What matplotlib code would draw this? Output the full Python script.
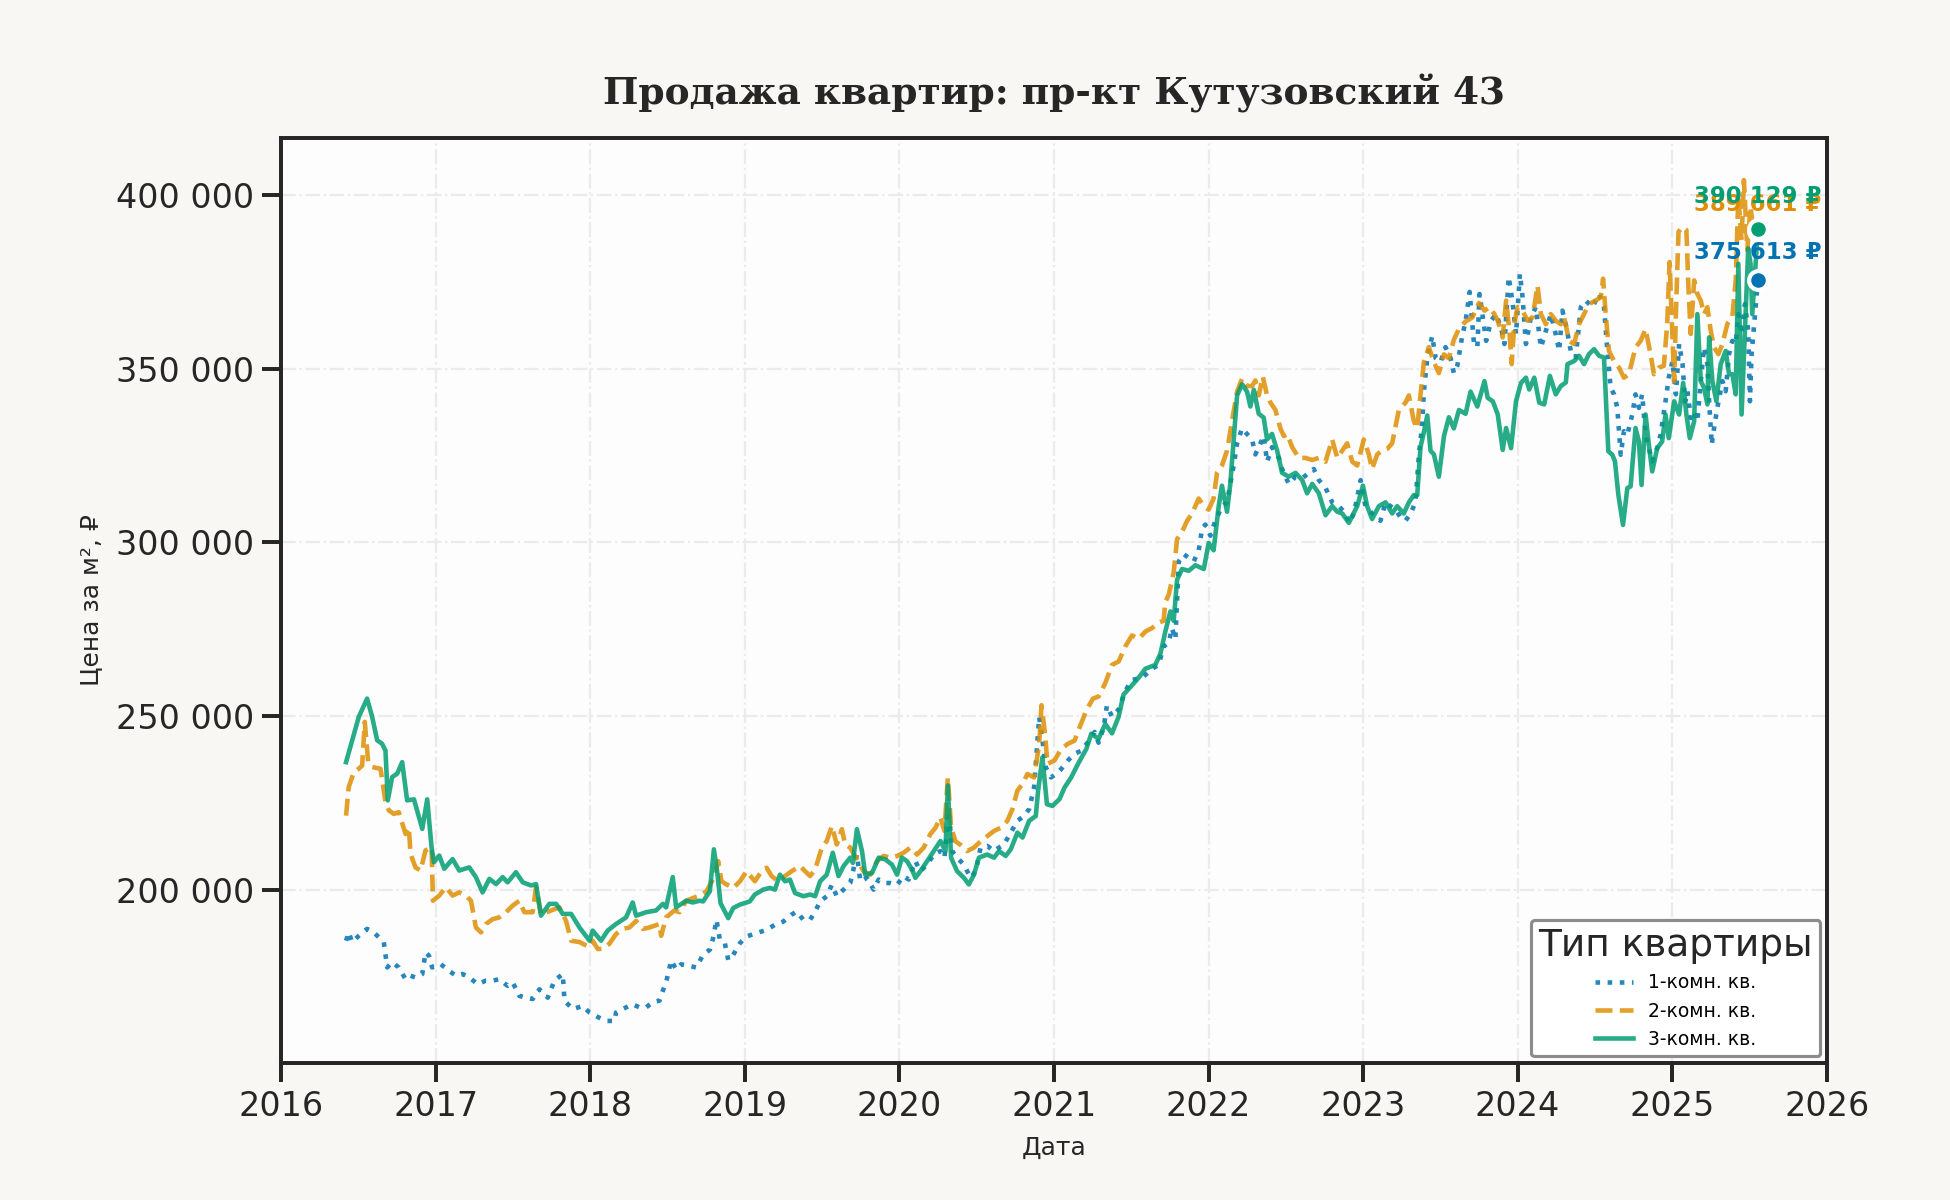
import pandas as pd
import matplotlib
matplotlib.use("Agg")
import matplotlib.pyplot as plt
import matplotlib.dates as mdates
from matplotlib.ticker import FuncFormatter, MultipleLocator

# даты в долях года, цены в рублях за м²
one_room_t = [
    2016.421, 2016.438, 2016.460, 2016.503, 2016.557, 2016.600, 2016.633, 2016.665, 2016.687, 2016.719,
    2016.762, 2016.806, 2016.838, 2016.870, 2016.914, 2016.935, 2016.957, 2016.978, 2017.032, 2017.086,
    2017.130, 2017.173, 2017.216, 2017.270, 2017.324, 2017.367, 2017.410, 2017.464, 2017.497, 2017.540,
    2017.583, 2017.626, 2017.670, 2017.724, 2017.767, 2017.821, 2017.832, 2017.886, 2017.950, 2017.994,
    2018.058, 2018.102, 2018.156, 2018.166, 2018.231, 2018.274, 2018.317, 2018.361, 2018.404, 2018.447,
    2018.469, 2018.490, 2018.523, 2018.555, 2018.587, 2018.631, 2018.685, 2018.729, 2018.773, 2018.794,
    2018.816, 2018.838, 2018.870, 2018.892, 2018.924, 2018.968, 2019.011, 2019.076, 2019.141, 2019.195,
    2019.249, 2019.303, 2019.335, 2019.379, 2019.422, 2019.455, 2019.487, 2019.530, 2019.563, 2019.595,
    2019.639, 2019.682, 2019.725, 2019.747, 2019.790, 2019.833, 2019.866, 2019.909, 2019.942, 2019.985,
    2020.028, 2020.061, 2020.104, 2020.136, 2020.180, 2020.223, 2020.266, 2020.292, 2020.320, 2020.342,
    2020.374, 2020.418, 2020.461, 2020.494, 2020.526, 2020.569, 2020.613, 2020.645, 2020.677, 2020.721,
    2020.764, 2020.807, 2020.840, 2020.872, 2020.905, 2020.926, 2020.948, 2020.981, 2021.013, 2021.045,
    2021.089, 2021.132, 2021.175, 2021.219, 2021.262, 2021.287, 2021.320, 2021.341, 2021.374, 2021.417,
    2021.460, 2021.503, 2021.568, 2021.633, 2021.676, 2021.708, 2021.741, 2021.762, 2021.784, 2021.806,
    2021.838, 2021.870, 2021.903, 2021.935, 2021.957, 2021.978, 2022.011, 2022.043, 2022.065, 2022.086,
    2022.119, 2022.140, 2022.162, 2022.184, 2022.216, 2022.248, 2022.281, 2022.302, 2022.324, 2022.356,
    2022.378, 2022.410, 2022.454, 2022.475, 2022.518, 2022.562, 2022.605, 2022.648, 2022.680, 2022.713,
    2022.756, 2022.799, 2022.842, 2022.886, 2022.907, 2022.940, 2022.983, 2023.015, 2023.058, 2023.112,
    2023.145, 2023.177, 2023.210, 2023.242, 2023.274, 2023.307, 2023.339, 2023.361, 2023.382, 2023.393,
    2023.415, 2023.447, 2023.469, 2023.501, 2023.533, 2023.566, 2023.587, 2023.609, 2023.641, 2023.663,
    2023.689, 2023.717, 2023.739, 2023.753, 2023.774, 2023.796, 2023.828, 2023.860, 2023.892, 2023.914,
    2023.942, 2023.968, 2023.989, 2024.015, 2024.032, 2024.054, 2024.086, 2024.118, 2024.151, 2024.183,
    2024.215, 2024.247, 2024.269, 2024.290, 2024.316, 2024.344, 2024.376, 2024.409, 2024.441, 2024.484,
    2024.527, 2024.559, 2024.581, 2024.602, 2024.624, 2024.645, 2024.667, 2024.688, 2024.710, 2024.742,
    2024.763, 2024.785, 2024.806, 2024.828, 2024.849, 2024.871, 2024.903, 2024.925, 2024.957, 2024.978,
    2025.000, 2025.022, 2025.043, 2025.065, 2025.082, 2025.097, 2025.118, 2025.140, 2025.161, 2025.183,
    2025.204, 2025.226, 2025.237, 2025.254, 2025.269, 2025.290, 2025.323, 2025.344, 2025.366, 2025.387,
    2025.409, 2025.426, 2025.447, 2025.469, 2025.490, 2025.501, 2025.512, 2025.553,
]
one_room_v = [
    185300, 187700, 184900, 186700, 188700, 187700, 186300, 184900, 177600, 179100,
    177600, 174200, 175200, 174700, 175700, 181900, 181000, 177600, 178500, 176600,
    175200, 175700, 174700, 172800, 173800, 173800, 174200, 172300, 173300, 169400,
    168900, 168500, 171300, 168900, 173800, 175700, 168000, 165600, 166500, 164600,
    163100, 162200, 162200, 164600, 166100, 167000, 166100, 166100, 167600, 168000,
    170900, 173300, 179600, 177000, 178500, 178100, 177600, 181200, 182700, 186000,
    191300, 185500, 184600, 179700, 181200, 184600, 186500, 187500, 188400, 189900,
    190800, 192800, 193700, 191300, 191300, 193700, 196600, 198100, 201400, 198100,
    200000, 201900, 210100, 202400, 203400, 200000, 202900, 201900, 201900, 201400,
    203900, 202900, 208200, 205300, 207200, 210100, 211100, 209200, 222700, 211100,
    209200, 207200, 203400, 205300, 212100, 212600, 211100, 212100, 213000, 216400,
    219800, 221200, 223200, 229400, 249700, 243000, 235200, 232300, 233300, 234700,
    237200, 239100, 240000, 242500, 245400, 242300, 246600, 253000, 249800, 251900,
    257200, 260400, 260900, 263600, 264700, 270000, 271100, 275300, 272100, 294500,
    296600, 295500, 294500, 297700, 304000, 305100, 301900, 306200, 308300, 310400,
    311500, 316800, 322100, 328500, 332800, 331200, 329600, 325300, 327400, 330600,
    323200, 327400, 324300, 321100, 316800, 318900, 318400, 320000, 321100, 317900,
    315700, 311500, 310400, 308300, 305600, 308300, 317900, 310400, 308300, 306200,
    311500, 310400, 309400, 307200, 306200, 308300, 311500, 325300, 333800, 343400,
    353000, 359400, 353000, 351900, 356200, 353000, 348700, 350800, 359400, 363600,
    372100, 357300, 356200, 371500, 364800, 358000, 363800, 365700, 361900, 357100,
    376400, 368600, 359900, 377300, 370600, 357100, 364800, 367700, 356100, 360900,
    365700, 359900, 355100, 366700, 361900, 355100, 353200, 367700, 369600, 367700,
    371500, 367700, 355100, 344500, 342600, 338700, 325200, 332000, 331000, 336800,
    342600, 338700, 342600, 331000, 327100, 323300, 327100, 331000, 340600, 347400,
    352200, 342600, 357100, 351300, 340600, 343500, 335800, 337700, 334800, 346400,
    356100, 351300, 340600, 328100, 332900, 338700, 346400, 343500, 354200, 358000,
    357100, 365700, 359900, 368600, 360900, 340600, 354200, 375613,
]

two_room_t = [
    2016.421, 2016.438, 2016.471, 2016.503, 2016.525, 2016.542, 2016.564, 2016.590, 2016.644, 2016.676,
    2016.698, 2016.730, 2016.762, 2016.806, 2016.827, 2016.838, 2016.870, 2016.903, 2016.935, 2016.974,
    2016.983, 2017.022, 2017.065, 2017.108, 2017.151, 2017.194, 2017.227, 2017.259, 2017.292, 2017.324,
    2017.367, 2017.410, 2017.454, 2017.497, 2017.540, 2017.572, 2017.626, 2017.648, 2017.680, 2017.734,
    2017.799, 2017.842, 2017.875, 2017.929, 2017.994, 2018.015, 2018.048, 2018.080, 2018.123, 2018.166,
    2018.210, 2018.253, 2018.296, 2018.339, 2018.382, 2018.447, 2018.458, 2018.490, 2018.544, 2018.577,
    2018.620, 2018.706, 2018.751, 2018.805, 2018.827, 2018.848, 2018.881, 2018.924, 2018.968, 2019.011,
    2019.065, 2019.108, 2019.141, 2019.173, 2019.216, 2019.260, 2019.303, 2019.357, 2019.390, 2019.422,
    2019.455, 2019.498, 2019.530, 2019.563, 2019.595, 2019.628, 2019.649, 2019.682, 2019.725, 2019.768,
    2019.812, 2019.855, 2019.898, 2019.942, 2019.985, 2020.028, 2020.071, 2020.115, 2020.158, 2020.201,
    2020.234, 2020.266, 2020.292, 2020.314, 2020.335, 2020.364, 2020.396, 2020.439, 2020.483, 2020.526,
    2020.569, 2020.613, 2020.656, 2020.699, 2020.732, 2020.764, 2020.797, 2020.829, 2020.872, 2020.905,
    2020.920, 2020.942, 2020.959, 2021.002, 2021.045, 2021.089, 2021.132, 2021.165, 2021.208, 2021.251,
    2021.287, 2021.330, 2021.374, 2021.417, 2021.460, 2021.503, 2021.546, 2021.590, 2021.633, 2021.676,
    2021.708, 2021.719, 2021.741, 2021.773, 2021.795, 2021.827, 2021.860, 2021.892, 2021.935, 2021.968,
    2022.000, 2022.032, 2022.054, 2022.086, 2022.119, 2022.151, 2022.184, 2022.216, 2022.248, 2022.281,
    2022.302, 2022.324, 2022.350, 2022.378, 2022.400, 2022.432, 2022.464, 2022.486, 2022.508, 2022.540,
    2022.583, 2022.626, 2022.670, 2022.713, 2022.756, 2022.799, 2022.832, 2022.864, 2022.896, 2022.929,
    2022.961, 2023.004, 2023.037, 2023.058, 2023.091, 2023.123, 2023.156, 2023.188, 2023.231, 2023.274,
    2023.296, 2023.328, 2023.350, 2023.371, 2023.393, 2023.425, 2023.458, 2023.490, 2023.523, 2023.555,
    2023.587, 2023.620, 2023.663, 2023.706, 2023.749, 2023.785, 2023.817, 2023.849, 2023.871, 2023.903,
    2023.925, 2023.946, 2023.961, 2023.978, 2024.000, 2024.032, 2024.065, 2024.097, 2024.129, 2024.151,
    2024.183, 2024.215, 2024.247, 2024.280, 2024.301, 2024.333, 2024.366, 2024.398, 2024.430, 2024.462,
    2024.505, 2024.538, 2024.553, 2024.570, 2024.591, 2024.624, 2024.656, 2024.688, 2024.720, 2024.763,
    2024.796, 2024.828, 2024.860, 2024.882, 2024.914, 2024.946, 2024.968, 2024.983, 2025.011, 2025.022,
    2025.039, 2025.065, 2025.090, 2025.103, 2025.118, 2025.140, 2025.161, 2025.183, 2025.204, 2025.226,
    2025.247, 2025.269, 2025.297, 2025.323, 2025.355, 2025.387, 2025.409, 2025.426, 2025.447, 2025.462,
    2025.484, 2025.505, 2025.527, 2025.553,
]
two_room_v = [
    221300, 229500, 233800, 234800, 235700, 248300, 236700, 235300, 234800, 225200,
    222800, 221800, 222300, 216000, 217900, 210300, 206400, 205500, 211300, 212200,
    196800, 198300, 200700, 198300, 199200, 198300, 196800, 189100, 187700, 190100,
    191500, 192000, 193500, 195400, 196800, 193500, 193500, 200700, 192800, 193800,
    194900, 191000, 185300, 184900, 183400, 185300, 182900, 183000, 184400, 187200,
    188700, 189100, 191000, 188700, 189100, 190100, 186700, 192000, 194000, 193500,
    196800, 198300, 199500, 203900, 208200, 202400, 201500, 200500, 202400, 205300,
    202400, 205300, 206300, 203900, 202400, 203900, 205300, 206800, 205300, 203900,
    205800, 212100, 214000, 218300, 213000, 217400, 213000, 212100, 208700, 205300,
    204300, 208200, 209700, 209200, 209700, 210600, 212100, 210100, 212100, 216000,
    217800, 220800, 216900, 232300, 217800, 213900, 212900, 211100, 212100, 213900,
    215400, 216900, 217800, 219800, 223200, 228500, 230400, 233300, 232300, 241900,
    253100, 245100, 236200, 237200, 240500, 242000, 242900, 246800, 251600, 255000,
    255600, 259400, 264700, 265700, 270000, 273200, 272200, 274300, 275300, 276900,
    277400, 282800, 284900, 291300, 300900, 303000, 306200, 308300, 312600, 310400,
    309400, 312600, 320000, 322100, 326400, 334900, 343400, 347100, 345000, 345000,
    346600, 342300, 347700, 342300, 340200, 338100, 332800, 330600, 331200, 327400,
    324300, 324300, 323700, 324300, 323200, 329600, 324300, 326400, 328500, 323200,
    322100, 329600, 325300, 321100, 325300, 326400, 326900, 328500, 338100, 340200,
    342300, 334900, 332800, 342300, 351900, 356200, 351900, 348700, 354100, 353000,
    358300, 361500, 363600, 364700, 368900, 366700, 367700, 365700, 363800, 359000,
    369600, 360900, 351300, 362900, 367700, 366700, 363800, 364800, 373900, 365700,
    362800, 365700, 363800, 362800, 364800, 358000, 357100, 362900, 365700, 368600,
    369600, 370600, 375900, 365700, 355100, 352200, 350300, 347400, 348400, 356100,
    358000, 361400, 354200, 348400, 350300, 350800, 362900, 380700, 346400, 365700,
    389400, 390800, 389900, 373500, 360000, 375400, 371500, 369600, 365700, 367700,
    361000, 356100, 354200, 357100, 362900, 364800, 375400, 399500, 387000, 404300,
    384100, 396700, 387900, 389661,
]

three_room_t = [
    2016.421, 2016.503, 2016.557, 2016.590, 2016.622, 2016.654, 2016.676, 2016.691, 2016.719, 2016.752,
    2016.784, 2016.816, 2016.860, 2016.914, 2016.946, 2016.974, 2016.989, 2017.022, 2017.054, 2017.108,
    2017.151, 2017.216, 2017.259, 2017.302, 2017.346, 2017.389, 2017.432, 2017.464, 2017.518, 2017.562,
    2017.616, 2017.648, 2017.680, 2017.734, 2017.778, 2017.821, 2017.875, 2017.929, 2017.994, 2018.015,
    2018.069, 2018.112, 2018.166, 2018.231, 2018.274, 2018.296, 2018.361, 2018.425, 2018.469, 2018.490,
    2018.533, 2018.555, 2018.620, 2018.663, 2018.706, 2018.729, 2018.773, 2018.799, 2018.820, 2018.842,
    2018.892, 2018.924, 2018.968, 2019.032, 2019.065, 2019.119, 2019.162, 2019.195, 2019.227, 2019.260,
    2019.292, 2019.325, 2019.379, 2019.422, 2019.455, 2019.487, 2019.530, 2019.569, 2019.606, 2019.639,
    2019.682, 2019.699, 2019.725, 2019.758, 2019.779, 2019.823, 2019.866, 2019.909, 2019.952, 2019.985,
    2020.017, 2020.050, 2020.082, 2020.104, 2020.136, 2020.180, 2020.223, 2020.266, 2020.299, 2020.314,
    2020.335, 2020.374, 2020.418, 2020.450, 2020.483, 2020.515, 2020.569, 2020.613, 2020.645, 2020.688,
    2020.721, 2020.764, 2020.797, 2020.840, 2020.883, 2020.898, 2020.926, 2020.955, 2020.991, 2021.035,
    2021.067, 2021.110, 2021.154, 2021.208, 2021.240, 2021.287, 2021.330, 2021.374, 2021.417, 2021.449,
    2021.503, 2021.546, 2021.590, 2021.654, 2021.687, 2021.719, 2021.752, 2021.773, 2021.795, 2021.827,
    2021.870, 2021.914, 2021.968, 2022.000, 2022.032, 2022.043, 2022.065, 2022.086, 2022.119, 2022.140,
    2022.162, 2022.184, 2022.216, 2022.248, 2022.270, 2022.292, 2022.324, 2022.356, 2022.378, 2022.410,
    2022.443, 2022.475, 2022.518, 2022.562, 2022.605, 2022.637, 2022.670, 2022.713, 2022.756, 2022.799,
    2022.832, 2022.864, 2022.907, 2022.961, 2022.998, 2023.026, 2023.058, 2023.102, 2023.145, 2023.188,
    2023.220, 2023.263, 2023.296, 2023.328, 2023.350, 2023.371, 2023.393, 2023.415, 2023.436, 2023.458,
    2023.490, 2023.523, 2023.555, 2023.587, 2023.620, 2023.663, 2023.695, 2023.739, 2023.785, 2023.806,
    2023.839, 2023.871, 2023.903, 2023.925, 2023.957, 2023.989, 2024.022, 2024.054, 2024.075, 2024.108,
    2024.140, 2024.172, 2024.209, 2024.247, 2024.280, 2024.312, 2024.323, 2024.366, 2024.398, 2024.430,
    2024.462, 2024.495, 2024.527, 2024.559, 2024.587, 2024.613, 2024.630, 2024.652, 2024.682, 2024.710,
    2024.731, 2024.763, 2024.785, 2024.802, 2024.828, 2024.849, 2024.871, 2024.903, 2024.935, 2024.957,
    2024.978, 2025.011, 2025.043, 2025.069, 2025.090, 2025.112, 2025.140, 2025.161, 2025.183, 2025.204,
    2025.226, 2025.237, 2025.258, 2025.284, 2025.312, 2025.344, 2025.366, 2025.387, 2025.409, 2025.426,
    2025.447, 2025.469, 2025.490, 2025.505, 2025.516, 2025.553,
]
three_room_v = [
    236700, 249700, 255000, 249700, 243000, 242000, 240000, 225700, 232400, 233400,
    236700, 225700, 226000, 217500, 226000, 212200, 207900, 209800, 206000, 208800,
    205500, 206400, 203600, 199200, 203100, 201600, 203600, 202100, 205000, 202100,
    201200, 201600, 192500, 195900, 195900, 193000, 193000, 189100, 185300, 188200,
    185300, 188200, 190100, 192000, 196300, 192500, 193500, 194000, 195900, 194900,
    203600, 194900, 196800, 196300, 196800, 196600, 199500, 211600, 205300, 196100,
    191800, 194700, 195700, 196600, 198600, 200000, 200500, 200000, 204300, 202400,
    202900, 199000, 198100, 198600, 198100, 202400, 204300, 210600, 203900, 206800,
    209200, 207700, 217400, 211100, 204300, 204800, 209200, 208700, 207200, 204300,
    209200, 208200, 205800, 203400, 205300, 208200, 211100, 214000, 211100, 230000,
    209200, 205300, 203400, 201500, 204300, 209200, 210100, 209200, 211100, 209700,
    211600, 216400, 215000, 219800, 221200, 228500, 238100, 224600, 224100, 226100,
    229400, 232300, 236200, 240500, 244900, 243400, 247700, 245000, 249800, 256200,
    258800, 261000, 263600, 264700, 267900, 274300, 280100, 277400, 289200, 292300,
    291800, 293400, 292300, 299800, 297700, 301900, 310400, 316300, 308800, 316800,
    329600, 342300, 345500, 343400, 339100, 343900, 337000, 335900, 329600, 331200,
    326400, 320000, 318900, 320000, 317900, 314100, 316800, 314100, 307800, 310400,
    308800, 308300, 305600, 310400, 316300, 310400, 306700, 310400, 311500, 308300,
    310400, 308300, 311500, 313600, 313600, 327400, 331700, 336500, 326400, 325300,
    318900, 330600, 336000, 332800, 338100, 337000, 343400, 339100, 346400, 341600,
    340600, 336800, 326600, 332900, 327100, 340600, 345900, 347400, 344000, 347400,
    340200, 339700, 347900, 342600, 345000, 346000, 351300, 352200, 353700, 351300,
    354200, 355600, 353700, 353200, 326200, 325200, 323300, 313600, 305000, 315600,
    316100, 332900, 329000, 316500, 336800, 328100, 320400, 327100, 329000, 336800,
    330000, 340600, 336800, 345900, 336800, 330000, 334800, 365700, 346400, 344500,
    339700, 359000, 346400, 340600, 351300, 355100, 348400, 348400, 342600, 380200,
    336800, 360900, 384600, 380200, 365700, 390129,
]

series_names = ["1-комн. кв.", "2-комн. кв.", "3-комн. кв."]
colors = ["#0173b2", "#de8f05", "#029e73"]
styles = [":", "--", "-"]
label_offsets = [13, 12.7, 15.7]


def to_dates(years):
    out = []
    for y in years:
        base = pd.Timestamp(year=int(y), month=1, day=1)
        out.append(base + pd.Timedelta(days=(y - int(y)) * 365.25))
    return out


fig = plt.figure(figsize=(13, 8), dpi=150, facecolor="#f8f7f3")
ax = fig.add_axes([0.1441, 0.1142, 0.7928, 0.7708])
ax.set_facecolor("#fdfdfd")

all_t = [one_room_t, two_room_t, three_room_t]
all_v = [one_room_v, two_room_v, three_room_v]

for t, v, name, c, ls in zip(all_t, all_v, series_names, colors, styles):
    d = to_dates(t)
    ax.plot(d, v, ls, color=c, lw=2.2, alpha=0.85, label=name, zorder=3)

# последние значения
for t, v, c, off in zip(all_t, all_v, colors, label_offsets):
    d = to_dates(t)[-1]
    ax.plot([d], [v[-1]], "o", color=c, ms=9, mec="white", mew=2, zorder=6)
    label = f"{v[-1]:,}".replace(",", " ") + " ₽"
    ax.annotate(label, (d, v[-1]), xytext=(0, off), textcoords="offset points",
                ha="center", va="center", fontsize=11, fontweight="bold",
                color=c, zorder=7)

ax.set_xlim(pd.Timestamp("2016-01-01"), pd.Timestamp("2026-01-01"))
ax.xaxis.set_major_locator(mdates.YearLocator())
ax.xaxis.set_major_formatter(mdates.DateFormatter("%Y"))
ax.yaxis.set_major_locator(MultipleLocator(50000))
ax.yaxis.set_major_formatter(FuncFormatter(lambda x, p: f"{int(x):,}".replace(",", " ")))

ax.grid(True, linestyle="-.", color="#ebebeb", lw=1.1, zorder=0)
for s in ax.spines.values():
    s.set_color("#262626")
    s.set_linewidth(1.9)
ax.tick_params(axis="both", length=9, width=1.9, color="#262626",
               labelsize=16, labelcolor="#262626", pad=4)

ax.set_title("Продажа квартир: пр-кт Кутузовский 43", fontsize=18,
             fontweight="bold", family="DejaVu Serif", color="#262626", pad=16)
ax.set_xlabel("Дата", fontsize=12, color="#262626", labelpad=6)
ax.set_ylabel("Цена за м², ₽", fontsize=12, color="#262626", labelpad=6)

leg = ax.legend(title="Тип квартиры", loc="lower right", fontsize=9,
                title_fontsize=18, frameon=True, fancybox=True, framealpha=1,
                edgecolor="#8c8c8c", borderaxespad=0.35)
leg.get_frame().set_linewidth(1.5)
leg.get_frame().set_facecolor("white")
leg.get_title().set_color("#262626")

fig.savefig("out.png", dpi=150, facecolor=fig.get_facecolor())
